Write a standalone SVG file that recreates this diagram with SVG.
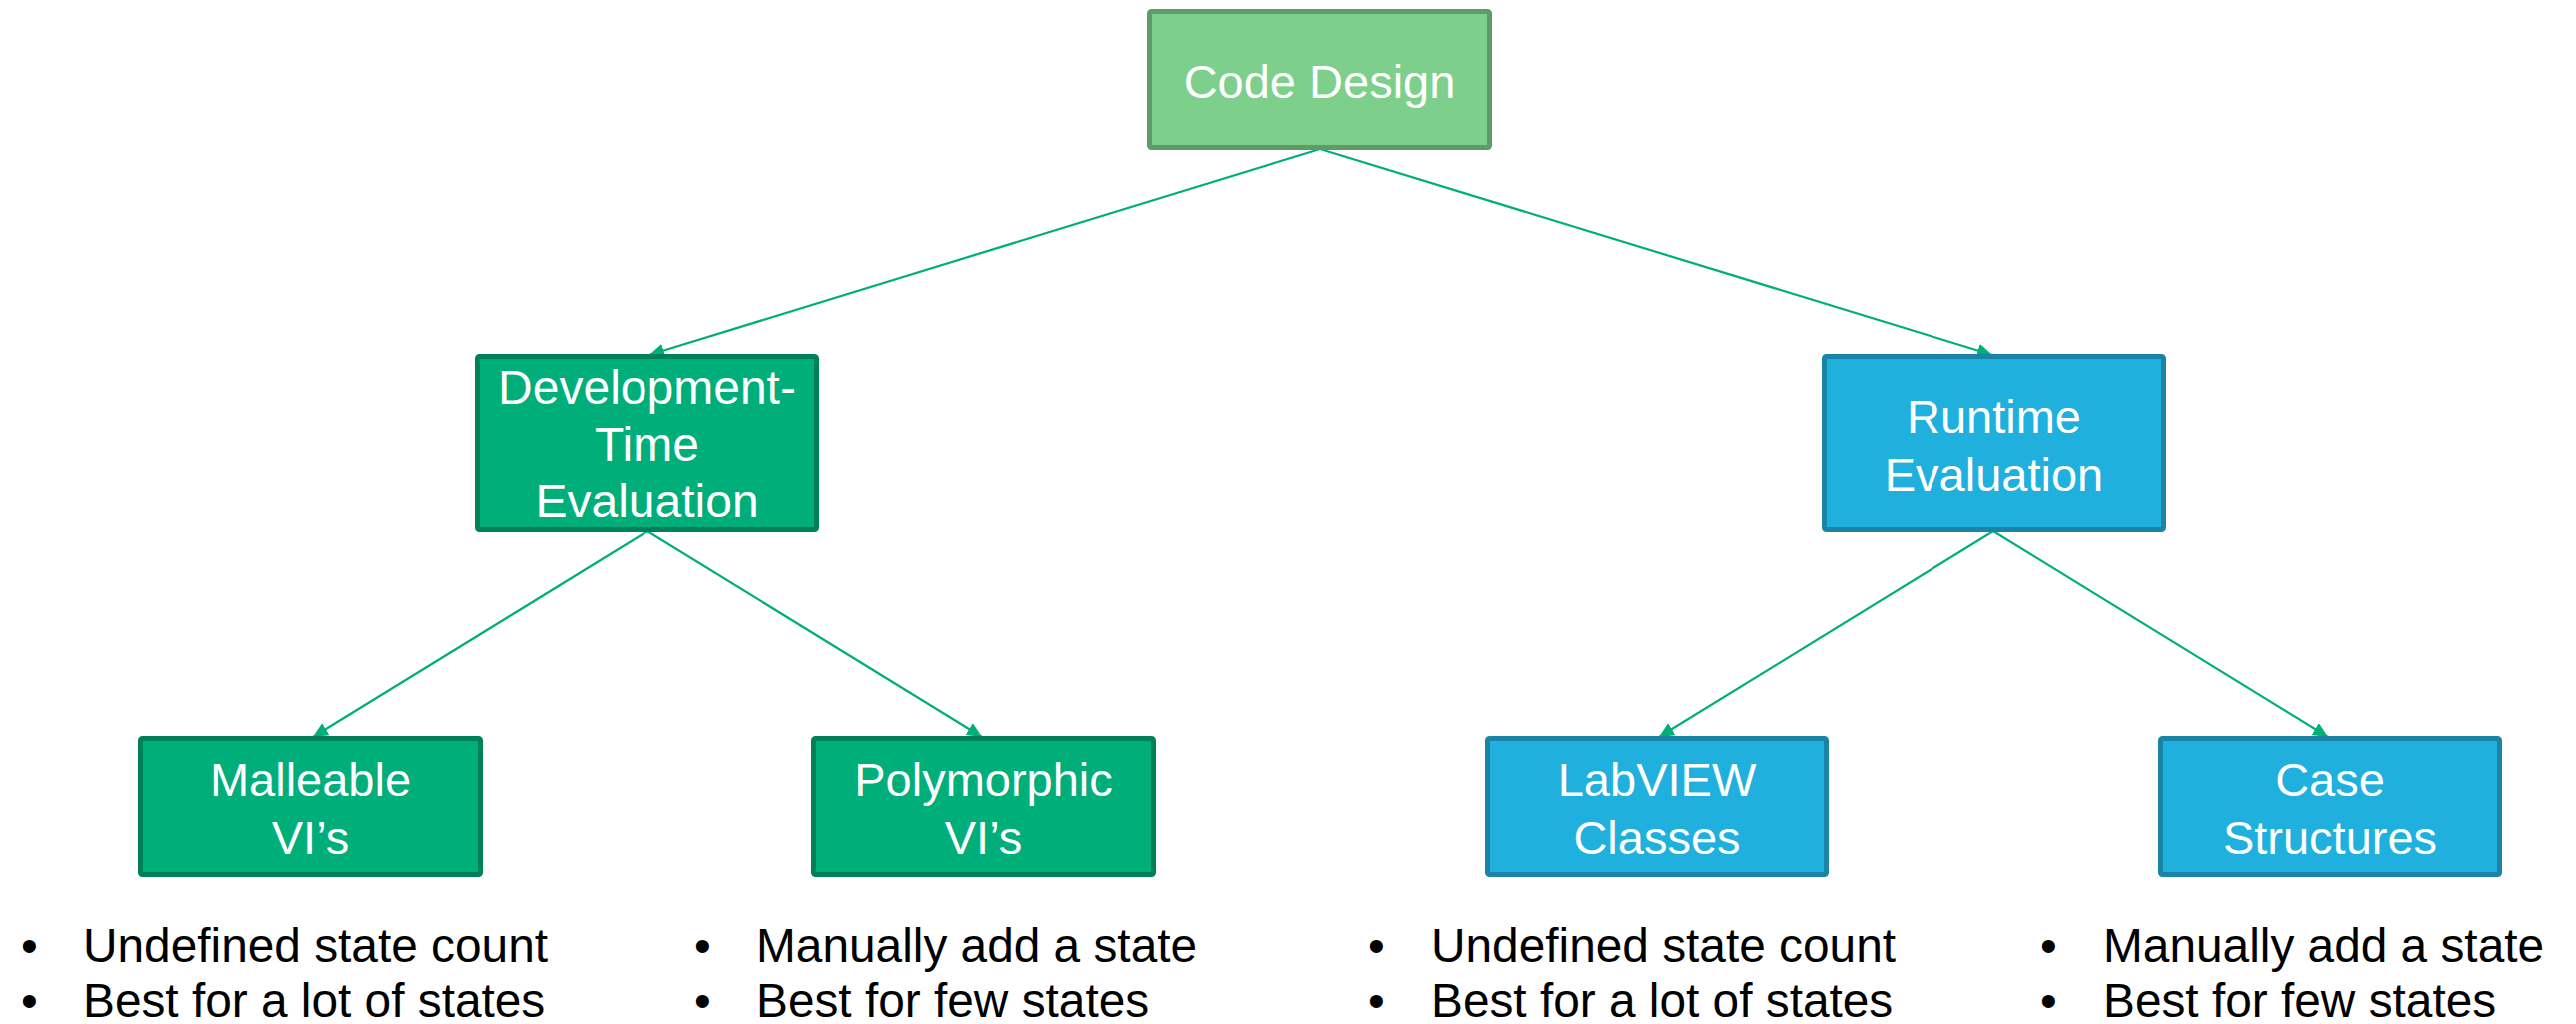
<svg xmlns="http://www.w3.org/2000/svg" width="2578" height="1025" viewBox="0 0 2578 1025">
  <style>
    .box text { font-family: "Liberation Sans", Arial, sans-serif; font-size: 47px; fill: #ffffff; text-anchor: middle; }
    .root rect { fill: #7dcf8b; stroke: #5e9b68; stroke-width: 5; }
    .green rect { fill: #00ae7a; stroke: #008058; stroke-width: 5; }
    .blue rect { fill: #1fb0dd; stroke: #1a84a6; stroke-width: 5; }
    .edge { stroke: #00ae7a; stroke-width: 2.2; fill: none; marker-end: url(#arrow); }
    .notes text { font-family: "Liberation Sans", Arial, sans-serif; font-size: 47.8px; fill: #000000; }
  </style>
  <defs>
    <marker id="arrow" markerUnits="userSpaceOnUse" markerWidth="18" markerHeight="16" refX="15" refY="7" orient="auto">
      <path d="M0,0 L15,7 L0,14 Z" fill="#00ae7a"/>
    </marker>
  </defs>
  <rect width="2578" height="1025" fill="#ffffff"/>

  <!-- connectors -->
  <g id="connectors">
    <line class="edge" x1="1321" y1="149" x2="650" y2="355"/>
    <line class="edge" x1="1321" y1="149" x2="1994" y2="355"/>
    <line class="edge" x1="648" y1="532" x2="313" y2="738"/>
    <line class="edge" x1="648" y1="532" x2="983" y2="738"/>
    <line class="edge" x1="1995" y1="532" x2="1660" y2="738"/>
    <line class="edge" x1="1995" y1="532" x2="2330" y2="738"/>
  </g>

  <!-- top level -->
  <g id="code-design" class="box root">
    <rect x="1150.5" y="11.5" width="340" height="136" rx="2"/>
    <text x="1320.5" y="98">Code Design</text>
  </g>

  <!-- second level -->
  <g id="development-time" class="box green">
    <rect x="477.5" y="356.5" width="340" height="174" rx="2"/>
    <text x="647.5" y="404" style="font-size:48px">Development-</text>
    <text x="647.5" y="461" style="font-size:48px">Time</text>
    <text x="647.5" y="518" style="font-size:48px">Evaluation</text>
  </g>
  <g id="runtime" class="box blue">
    <rect x="1825.5" y="356.5" width="340" height="174" rx="2"/>
    <text x="1995.5" y="433">Runtime</text>
    <text x="1995.5" y="491">Evaluation</text>
  </g>

  <!-- third level -->
  <g id="malleable" class="box green">
    <rect x="140.5" y="739.5" width="340" height="136" rx="2"/>
    <text x="310.5" y="797">Malleable</text>
    <text x="310.5" y="855">VI’s</text>
  </g>
  <g id="polymorphic" class="box green">
    <rect x="814.5" y="739.5" width="340" height="136" rx="2"/>
    <text x="984.5" y="797">Polymorphic</text>
    <text x="984.5" y="855">VI’s</text>
  </g>
  <g id="labview-classes" class="box blue">
    <rect x="1488.5" y="739.5" width="339" height="136" rx="2"/>
    <text x="1658" y="797">LabVIEW</text>
    <text x="1658" y="855">Classes</text>
  </g>
  <g id="case-structures" class="box blue">
    <rect x="2162.5" y="739.5" width="339" height="136" rx="2"/>
    <text x="2332" y="797">Case</text>
    <text x="2332" y="855">Structures</text>
  </g>

  <!-- bullet notes -->
  <g id="notes" class="notes">
    <text x="21" y="963">•</text>
    <text x="83" y="963">Undefined state count</text>
    <text x="21" y="1018">•</text>
    <text x="83" y="1018">Best for a lot of states</text>

    <text x="695" y="963">•</text>
    <text x="757" y="963">Manually add a state</text>
    <text x="695" y="1018">•</text>
    <text x="757" y="1018">Best for few states</text>

    <text x="1369" y="963">•</text>
    <text x="1432" y="963">Undefined state count</text>
    <text x="1369" y="1018">•</text>
    <text x="1432" y="1018">Best for a lot of states</text>

    <text x="2042" y="963">•</text>
    <text x="2105" y="963">Manually add a state</text>
    <text x="2042" y="1018">•</text>
    <text x="2105" y="1018">Best for few states</text>
  </g>
</svg>
